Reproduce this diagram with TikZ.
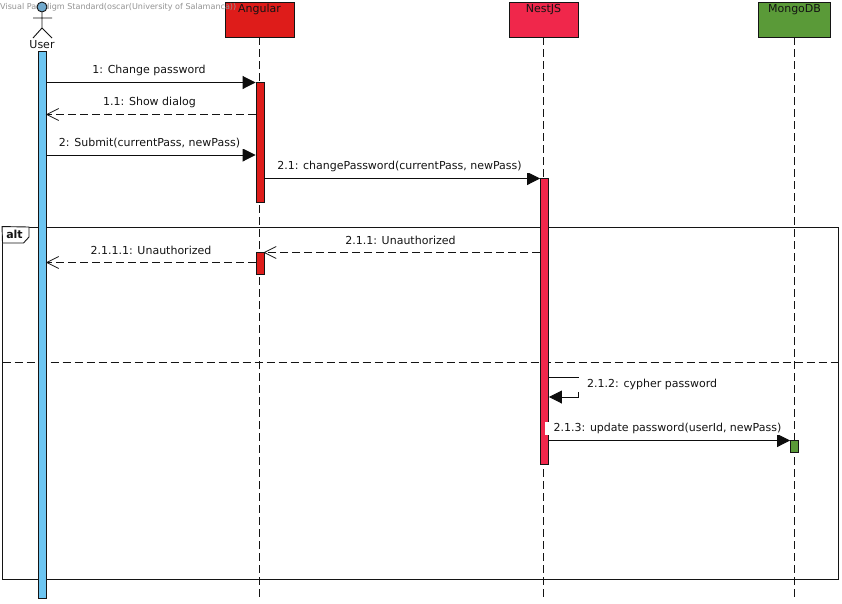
\documentclass[tikz,border=0pt]{standalone}
\usepackage{fontspec}
\setmainfont{DejaVu Sans}
\usetikzlibrary{arrows.meta}
\definecolor{userblue}{HTML}{6CC5F1}
\definecolor{headblue}{HTML}{6FA8CC}
\definecolor{angred}{HTML}{DE1C1A}
\definecolor{nestred}{HTML}{F0274B}
\definecolor{mongogreen}{HTML}{5A9A38}
\tikzset{
  x=1pt,y=-1pt,
  every node/.style={font=\fontsize{11}{13}\selectfont,text=black!92},
  headbox/.style={draw=black!92,line width=.9pt,minimum width=#1,minimum height=34.5pt,inner sep=0pt},
  actbar/.style={draw=black!92,line width=.9pt,minimum width=8pt,inner sep=0pt},
  life/.style={line width=.9pt,dash pattern=on 8pt off 4pt,black!92},
  msg/.style={line width=.9pt,black!95,-{Triangle[length=13pt,width=13pt]}},
  reply/.style={line width=.9pt,black!92,dash pattern=on 8pt off 4pt,shorten >=-1pt,-{Straight Barb[length=12pt,width=12pt,line width=.7pt]}},
  msglabel/.style={fill=white,inner xsep=9pt,inner ysep=1pt},
  frameline/.style={line width=.9pt,black!92},
}
\begin{document}
\begin{tikzpicture}
\useasboundingbox[fill=white] (0,0) rectangle (842,603);
% free ends
\coordinate (aend) at (259.5,598);
\coordinate (nend) at (543.5,598);
\coordinate (mend) at (794.5,598);
% frame
\node[draw=black!92,line width=.9pt,minimum width=836pt,minimum height=352pt,inner sep=0pt] (altframe) at (420.5,403) {};
\coordinate (divl) at (2.5,362);
\coordinate (divr) at (838.5,362);
\draw[life] (divl) -- (divr);
\path[frameline,draw,fill=white] (altframe.north west) -- (29,227) -- (29,237) -- (23.5,243) -- (2.5,243) -- cycle;
\node[font=\fontsize{11}{13}\selectfont\bfseries,inner sep=0pt] (alttext) at (14.5,234.5) {alt};
% heads
\node[headbox=69pt,fill=angred] (angular) at (260,19.7) {};
\node[headbox=69pt,fill=nestred] (nest) at (544,19.7) {};
\node[headbox=72pt,fill=mongogreen] (mongo) at (794.5,19.7) {};
\node[inner sep=0pt] (angt) at (259.5,9.3) {Angular};
\node[inner sep=0pt] (nestt) at (543.5,9.3) {NestJS};
\node[inner sep=0pt] (mongot) at (794.5,9.3) {MongoDB};
\node[font=\fontsize{8.05}{9}\selectfont,text=gray!85,inner sep=0pt,anchor=west] (wm) at (0,7.5) {Visual Paradigm Standard(oscar(University of Salamanca))};
% actor
\node[circle,draw=black!92,fill=headblue,line width=.9pt,minimum size=10pt,inner sep=0pt] (head) at (42,7) {};
\coordinate (hip) at (42,28);
\coordinate (arml) at (33,18);
\coordinate (armr) at (52,18);
\coordinate (legl) at (33,38);
\coordinate (legr) at (52,38);
\draw[line width=.9pt,black!92] (head) -- (hip) (arml) -- (armr) (legl) -- (hip) -- (legr);
\node[inner sep=0pt] (user) at (42,44.3) {User};
% lifelines
\draw[life] (angular.south -| aend) -- (aend);
\draw[life] (nest.south -| nend) -- (nend);
\draw[life] (mongo.south) -- (mend);
% bars
\node[actbar,fill=userblue,minimum height=546.5pt] (ub) at (42.5,324.8) {};
\node[actbar,fill=angred,minimum height=120pt] (a1) at (260,142.3) {};
\node[actbar,fill=angred,minimum height=22pt] (a2) at (260,263.3) {};
\node[actbar,fill=nestred,minimum height=286pt] (n1) at (544.5,321.3) {};
\node[actbar,fill=mongogreen,minimum height=12pt] (m1) at (794.5,446.3) {};
% message heights
\coordinate (y1) at (0,82.5);
\coordinate (y2) at (0,114.5);
\coordinate (y3) at (0,155);
\coordinate (y4) at (0,178.5);
\coordinate (y5) at (0,252.5);
\coordinate (y6) at (0,262.5);
\coordinate (y7a) at (0,377.5);
\coordinate (y7b) at (0,397);
\coordinate (y8) at (0,440.5);
\coordinate (sr1) at (578.5,377.5);
\coordinate (sr2) at (578.5,397);
% messages
\draw[msg] (ub.east |- y1) -- (a1.west |- y1);
\draw[reply] (a1.west |- y2) -- (ub.east |- y2);
\draw[msg] (ub.east |- y3) -- (a1.west |- y3);
\draw[msg] (a1.east |- y4) -- (n1.west |- y4);
\draw[reply] (n1.west |- y5) -- (a2.east |- y5);
\draw[reply] (a2.west |- y6) -- (ub.east |- y6);
\draw[msg] (n1.east |- y7a) -- (sr1) -- (sr2) -- (n1.east |- y7b);
\draw[msg] (n1.east |- y8) -- (m1.west |- y8);
% labels
\node[msglabel] (l1) at (149,70.5) {1: Change password};
\node[msglabel] (l2) at (149.5,102.5) {1.1: Show dialog};
\node[msglabel] (l3) at (149.5,143.5) {2: Submit(currentPass, newPass)};
\node[msglabel] (l4) at (399.5,166.5) {2.1: changePassword(currentPass, newPass)};
\node[msglabel] (l5) at (400.5,240.5) {2.1.1: Unauthorized};
\node[msglabel] (l6) at (151,250.5) {2.1.1.1: Unauthorized};
\node[msglabel,anchor=west,inner xsep=9.5pt,minimum height=14pt] (l7) at (577.5,384.5) {2.1.2: cypher password};
\node[msglabel,minimum height=13pt] (l8) at (667.5,428) {2.1.3: update password(userId, newPass)};
\end{tikzpicture}
\end{document}
